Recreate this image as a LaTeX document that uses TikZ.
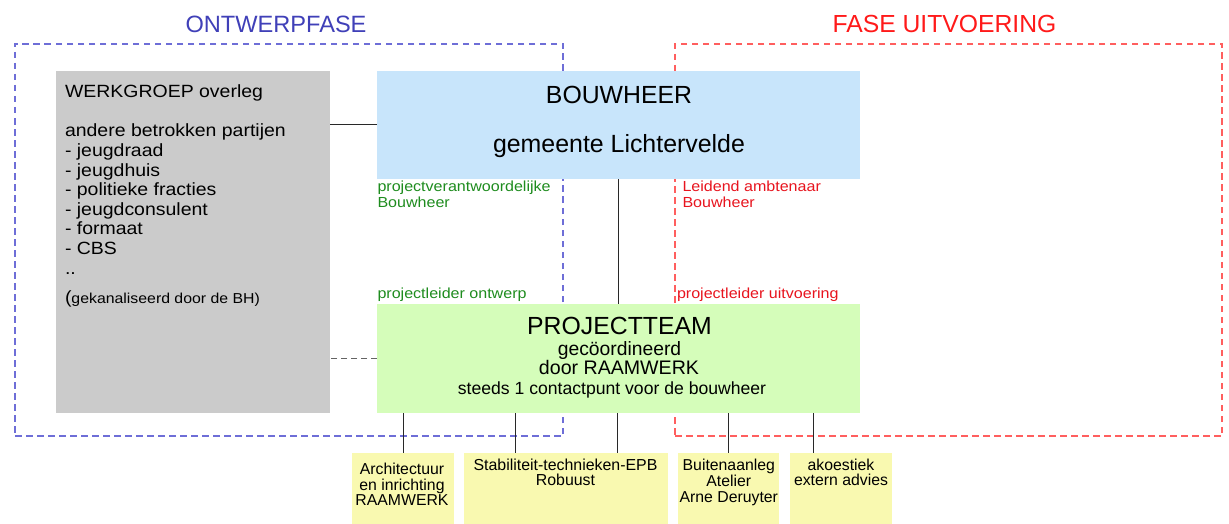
\documentclass[tikz,border=0pt]{standalone}
\usepackage{fontspec}
\setmainfont{Liberation Sans}
\newfontfamily\wfont[FakeStretch=1.1]{Liberation Sans}
\definecolor{titleblue}{RGB}{64,64,184}
\definecolor{frameblue}{RGB}{110,110,215}
\definecolor{titlered}{RGB}{255,26,26}
\definecolor{framered}{RGB}{255,95,95}
\definecolor{lblgreen}{RGB}{30,140,30}
\definecolor{lblred}{RGB}{232,20,30}
\definecolor{boxgray}{RGB}{203,203,203}
\definecolor{boxblue}{RGB}{200,229,251}
\definecolor{boxgreen}{RGB}{213,253,186}
\definecolor{boxyellow}{RGB}{249,249,176}
\definecolor{linecol}{RGB}{40,40,40}
\definecolor{dashgray}{RGB}{100,100,100}
\newcommand{\fsz}[2]{\fontsize{#1}{#2}\selectfont}

\begin{document}
\begin{tikzpicture}[x=1pt,y=-1pt,
  area/.style={draw, line width=1.4pt, dash pattern=on 6.5pt off 4.5pt, inner sep=0, outer sep=0},
  panel/.style={inner sep=0, outer sep=0, draw=none},
  yellowbox/.style={panel, fill=boxyellow, minimum height=71},
  txt/.style={inner sep=0, outer sep=0, anchor=base},
  txtl/.style={inner sep=0, outer sep=0, anchor=base west},
  conn/.style={draw=linecol, line width=1pt},
  dconn/.style={draw=dashgray, line width=1.5pt, dash pattern=on 6pt off 4pt},
  ]
\useasboundingbox (0,0) rectangle (1229,524);
\fill[white] (0,0) rectangle (1229,524);

% phase frames
\node[area, draw=frameblue, minimum width=548, minimum height=392] (ontwerp) at (289,240) {};
\node[area, draw=framered, minimum width=547, minimum height=392] (uitvoer) at (948.5,240) {};
\node[txt, text=titleblue] (tontwerp) at (276,33) {\fsz{23.6}{28}ONTWERPFASE};
\node[txt, text=titlered] (tuitvoer) at (944.5,33) {\fsz{24.7}{28}FASE UITVOERING};

% panels
\node[panel, fill=boxgray, minimum width=274, minimum height=342] (werk) at (193,242) {};
\node[panel, fill=boxblue, minimum width=483, minimum height=108] (bouw) at (618.5,125) {};
\node[panel, fill=boxgreen, minimum width=483, minimum height=109] (team) at (618.5,358.5) {};
\node[yellowbox, minimum width=101.7] (y1) at (403.2,488) {};
\node[yellowbox, minimum width=203.5] (y2) at (565.75,488) {};
\node[yellowbox, minimum width=101] (y3) at (728.8,488) {};
\node[yellowbox, minimum width=101.7] (y4) at (840.85,488) {};

% helper coordinates for connectors
\coordinate (c515) at (515,0);
\coordinate (c617) at (617,0);
\coordinate (c813) at (813.6,0);

% connectors
\draw[conn] (bouw.west) -- (bouw.west -| werk.east);
\draw[dconn] (team.west) -- (team.west -| werk.east);
\draw[conn] (bouw.south) -- (team.north);
\draw[conn] (team.south -| y1.north) -- (y1.north);
\draw[conn] (team.south -| c515) -- (y2.north -| c515);
\draw[conn] (team.south -| c617) -- (y2.north -| c617);
\draw[conn] (team.south -| y3.north) -- (y3.north);
\draw[conn] (team.south -| c813) -- (y4.north -| c813);

% gray panel text
\node[txtl] (werktxt) at (65,97.7) {\parbox[t]{262pt}{\raggedright\wfont\fsz{17.7}{19.6}WERKGROEP overleg\\[19.6pt]andere betrokken partijen\\- jeugdraad\\- jeugdhuis\\- politieke fracties\\- jeugdconsulent\\- formaat\\- CBS\\..}};
\node[txtl] (werknote) at (65,303) {\wfont{\fsz{17.7}{19.6}(}\fsz{14.4}{16}gekanaliseerd door de BH)};

% bouwheer text
\node[txt] (bouwt1) at (619,103.3) {\fsz{24.8}{28}BOUWHEER};
\node[txt] (bouwt2) at (619,152.7) {\fsz{24.9}{28}gemeente Lichtervelde};

% projectteam text
\node[txt] (teamt1) at (619.5,334) {\fsz{24.8}{28}PROJECTTEAM};
\node[txt] (teamt2) at (619.5,355) {\fsz{19.3}{22}gecöordineerd};
\node[txt] (teamt3) at (619,374) {\fsz{19.6}{22}door RAAMWERK};
\node[txt] (teamt4) at (612,394.3) {\fsz{17.6}{20}steeds 1 contactpunt voor de bouwheer};

% role labels
\node[txtl, text=lblgreen] (lpv) at (377.5,191.7) {\parbox[t]{200pt}{\raggedright\wfont\fsz{14.6}{16}projectverantwoordelijke\\Bouwheer}};
\node[txtl, text=lblgreen] (lpo) at (377.5,298) {\wfont\fsz{14.6}{16}projectleider ontwerp};
\node[txtl, text=lblred] (lla) at (682.5,191.7) {\parbox[t]{200pt}{\raggedright\wfont\fsz{14.6}{16}Leidend ambtenaar\\Bouwheer}};
\node[txtl, text=lblred] (lpu) at (677,298) {\wfont\fsz{14.6}{16}projectleider uitvoering};

% partner boxes text
\node[txt] (y1t) at (402,474.3) {\parbox[t]{100pt}{\centering\fsz{15.8}{15.7}Architectuur\\en inrichting\\RAAMWERK}};
\node[txt] (y2t) at (565.5,470.7) {\parbox[t]{200pt}{\centering\fsz{15.9}{15}Stabiliteit-technieken-EPB\\Robuust}};
\node[txt] (y3t) at (728.8,470.7) {\parbox[t]{100pt}{\centering\fsz{15.8}{16}Buitenaanleg\\Atelier\\Arne Deruyter}};
\node[txt] (y4t) at (841,470.7) {\parbox[t]{100pt}{\centering\fsz{15.8}{15}akoestiek\\extern advies}};
\end{tikzpicture}
\end{document}
